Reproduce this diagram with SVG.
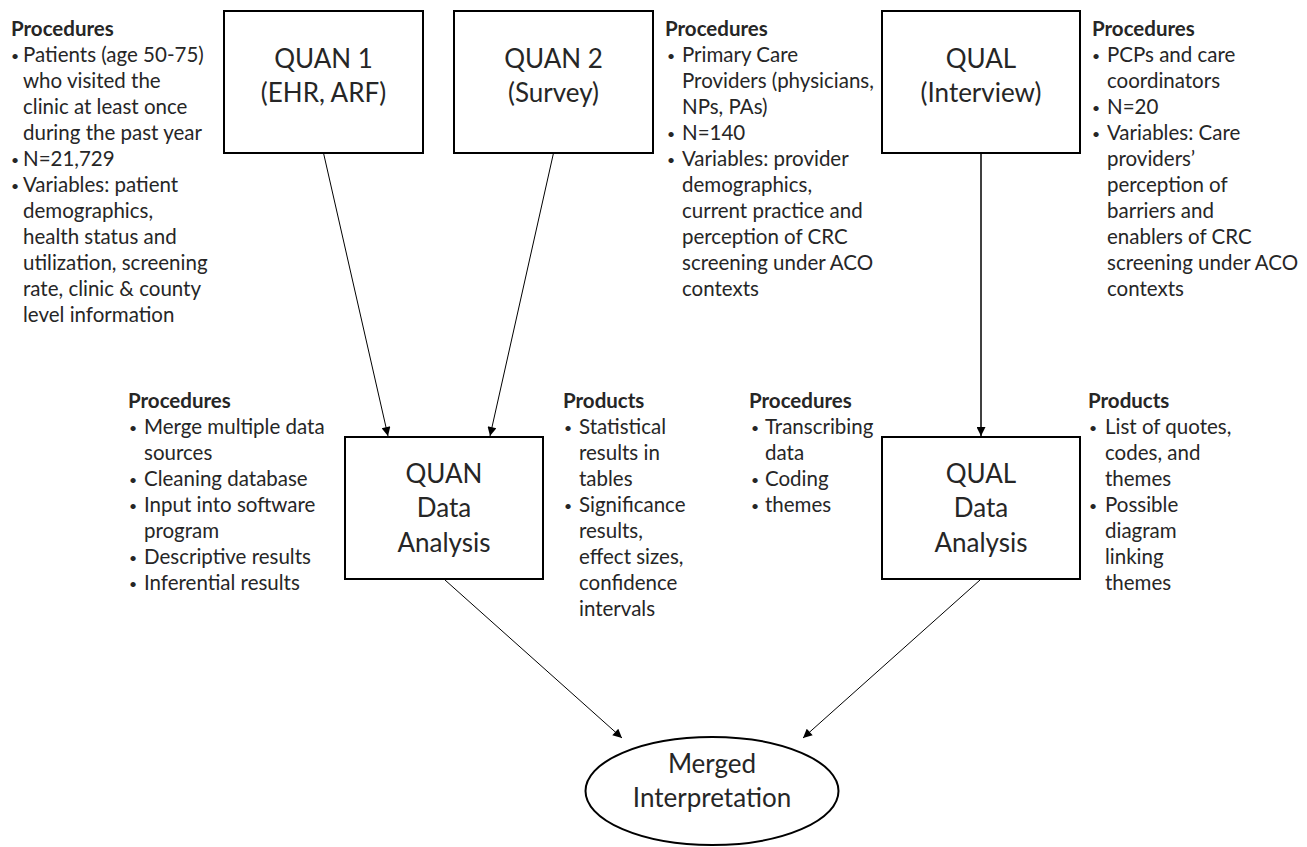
<svg xmlns="http://www.w3.org/2000/svg" width="1307" height="847" viewBox="0 0 1307 847">
<defs>
<style>
.box{fill:#fff;stroke:#000;stroke-width:2}
.lbl{font-family:Lato,"Liberation Sans",sans-serif;font-size:26px;fill:#262626;text-anchor:middle}
.t{font-family:Lato,"Liberation Sans",sans-serif;font-size:20.5px;fill:#262626}
.b{font-family:Lato,"Liberation Sans",sans-serif;font-size:14px;fill:#262626}
.h{font-family:Lato,"Liberation Sans",sans-serif;font-size:20.5px;font-weight:bold;fill:#262626}
.c{stroke:#000;stroke-width:1;fill:none;marker-end:url(#ah)}
</style>
<marker id="ah" viewBox="0 0 10 10" refX="10" refY="5" markerWidth="11" markerHeight="9" markerUnits="userSpaceOnUse" orient="auto">
<path d="M0,0 L10,5 L0,10 z" fill="#000"/>
</marker>
</defs>
<rect width="1307" height="847" fill="#fff"/>

<g id="connectors">
<line class="c" x1="323.5" y1="153" x2="388" y2="436"/>
<line class="c" x1="553.5" y1="153" x2="490" y2="436"/>
<line class="c" x1="981" y1="153" x2="981" y2="436" style="stroke-width:1.5"/>
<line class="c" x1="445" y1="580" x2="622" y2="738"/>
<line class="c" x1="980" y1="580" x2="803" y2="738"/>
</g>

<g id="quan1">
<rect class="box" x="224" y="11" width="199" height="142"/>
<text class="lbl" x="323.5" y="68">QUAN 1</text>
<text class="lbl" x="323.5" y="102">(EHR, ARF)</text>
</g>
<g id="quan2">
<rect class="box" x="454" y="11" width="199" height="142"/>
<text class="lbl" x="553.5" y="68">QUAN 2</text>
<text class="lbl" x="553.5" y="102">(Survey)</text>
</g>
<g id="qual">
<rect class="box" x="882" y="11" width="198" height="142"/>
<text class="lbl" x="981" y="68">QUAL</text>
<text class="lbl" x="981" y="102">(Interview)</text>
</g>
<g id="quan-da">
<rect class="box" x="345" y="437" width="198" height="142"/>
<text class="lbl" x="444" y="483">QUAN</text>
<text class="lbl" x="444" y="517">Data</text>
<text class="lbl" x="444" y="552">Analysis</text>
</g>
<g id="qual-da">
<rect class="box" x="882" y="437" width="198" height="142"/>
<text class="lbl" x="981" y="483">QUAL</text>
<text class="lbl" x="981" y="517">Data</text>
<text class="lbl" x="981" y="552">Analysis</text>
</g>
<g id="merged">
<ellipse cx="712" cy="791" rx="126.5" ry="54" fill="#fff" stroke="#000" stroke-width="2"/>
<text class="lbl" x="712" y="773">Merged</text>
<text class="lbl" x="712" y="807">Interpretation</text>
</g>

<g id="quan1-notes">
<text class="h" x="11" y="36">Procedures</text>
<text class="b" x="11" y="61">•</text><text class="t" x="23" y="62">Patients (age 50-75)</text>
<text class="t" x="23" y="88">who visited the</text>
<text class="t" x="23" y="114">clinic at least once</text>
<text class="t" x="23" y="140">during the past year</text>
<text class="b" x="11" y="165">•</text><text class="t" x="23" y="166">N=21,729</text>
<text class="b" x="11" y="191">•</text><text class="t" x="23" y="192">Variables: patient</text>
<text class="t" x="23" y="218">demographics,</text>
<text class="t" x="23" y="244">health status and</text>
<text class="t" x="23" y="270">utilization, screening</text>
<text class="t" x="23" y="296">rate, clinic &amp; county</text>
<text class="t" x="23" y="322">level information</text>
</g>

<g id="quan2-notes">
<text class="h" x="665" y="36">Procedures</text>
<text class="b" x="667" y="61">•</text><text class="t" x="682" y="62">Primary Care</text>
<text class="t" x="682" y="88">Providers (physicians,</text>
<text class="t" x="682" y="114">NPs, PAs)</text>
<text class="b" x="667" y="139">•</text><text class="t" x="682" y="140">N=140</text>
<text class="b" x="667" y="165">•</text><text class="t" x="682" y="166">Variables: provider</text>
<text class="t" x="682" y="192">demographics,</text>
<text class="t" x="682" y="218">current practice and</text>
<text class="t" x="682" y="244">perception of CRC</text>
<text class="t" x="682" y="270">screening under ACO</text>
<text class="t" x="682" y="296">contexts</text>
</g>

<g id="qual-notes">
<text class="h" x="1092" y="36">Procedures</text>
<text class="b" x="1092" y="61">•</text><text class="t" x="1107" y="62">PCPs and care</text>
<text class="t" x="1107" y="88">coordinators</text>
<text class="b" x="1092" y="113">•</text><text class="t" x="1107" y="114">N=20</text>
<text class="b" x="1092" y="139">•</text><text class="t" x="1107" y="140">Variables: Care</text>
<text class="t" x="1107" y="166">providers’</text>
<text class="t" x="1107" y="192">perception of</text>
<text class="t" x="1107" y="218">barriers and</text>
<text class="t" x="1107" y="244">enablers of CRC</text>
<text class="t" x="1107" y="270">screening under ACO</text>
<text class="t" x="1107" y="296">contexts</text>
</g>

<g id="quan-da-procedures">
<text class="h" x="128" y="408">Procedures</text>
<text class="b" x="129" y="433">•</text><text class="t" x="144" y="434">Merge multiple data</text>
<text class="t" x="144" y="460">sources</text>
<text class="b" x="129" y="485">•</text><text class="t" x="144" y="486">Cleaning database</text>
<text class="b" x="129" y="511">•</text><text class="t" x="144" y="512">Input into software</text>
<text class="t" x="144" y="538">program</text>
<text class="b" x="129" y="563">•</text><text class="t" x="144" y="564">Descriptive results</text>
<text class="b" x="129" y="589">•</text><text class="t" x="144" y="590">Inferential results</text>
</g>

<g id="quan-da-products">
<text class="h" x="563" y="408">Products</text>
<text class="b" x="564" y="433">•</text><text class="t" x="579" y="434">Statistical</text>
<text class="t" x="579" y="460">results in</text>
<text class="t" x="579" y="486">tables</text>
<text class="b" x="564" y="511">•</text><text class="t" x="579" y="512">Significance</text>
<text class="t" x="579" y="538">results,</text>
<text class="t" x="579" y="564">effect sizes,</text>
<text class="t" x="579" y="590">confidence</text>
<text class="t" x="579" y="616">intervals</text>
</g>

<g id="qual-da-procedures">
<text class="h" x="749" y="408">Procedures</text>
<text class="b" x="751" y="433">•</text><text class="t" x="765" y="434">Transcribing</text>
<text class="t" x="765" y="460">data</text>
<text class="b" x="751" y="485">•</text><text class="t" x="765" y="486">Coding</text>
<text class="b" x="751" y="511">•</text><text class="t" x="765" y="512">themes</text>
</g>

<g id="qual-da-products">
<text class="h" x="1088" y="408">Products</text>
<text class="b" x="1089" y="433">•</text><text class="t" x="1105" y="434">List of quotes,</text>
<text class="t" x="1105" y="460">codes, and</text>
<text class="t" x="1105" y="486">themes</text>
<text class="b" x="1089" y="511">•</text><text class="t" x="1105" y="512">Possible</text>
<text class="t" x="1105" y="538">diagram</text>
<text class="t" x="1105" y="564">linking</text>
<text class="t" x="1105" y="590">themes</text>
</g>
</svg>
